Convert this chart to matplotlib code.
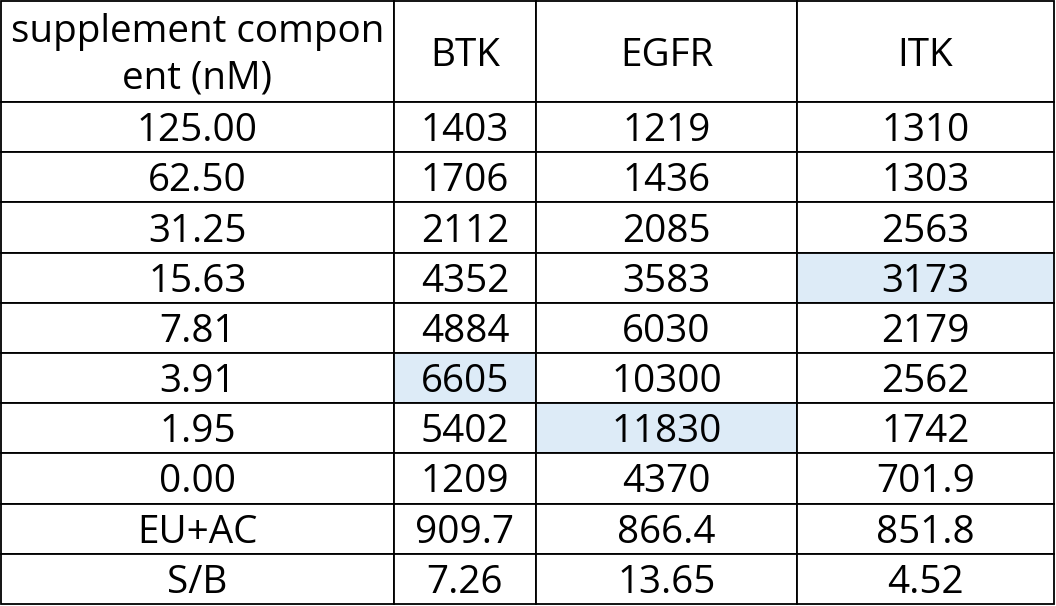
import matplotlib
matplotlib.use("Agg")
import matplotlib.pyplot as plt
from matplotlib.transforms import Affine2D

plt.rcParams['font.family'] = ['Open Sans', 'DejaVu Sans']

header = ["supplement compon\nent (nM)", "BTK", "EGFR", "ITK"]
conditions = ["125.00", "62.50", "31.25", "15.63", "7.81", "3.91", "1.95",
              "0.00", "EU+AC", "S/B"]
btk = ["1403", "1706", "2112", "4352", "4884", "6605", "5402", "1209", "909.7", "7.26"]
egfr = ["1219", "1436", "2085", "3583", "6030", "10300", "11830", "4370", "866.4", "13.65"]
itk = ["1310", "1303", "2563", "3173", "2179", "2562", "1742", "701.9", "851.8", "4.52"]

series = [btk, egfr, itk]
rows = [[conditions[i]] + [s[i] for s in series] for i in range(len(conditions))]

W, H = 1056, 606
fig = plt.figure(figsize=(W / 100, H / 100), dpi=100)
left, right, top, bottom = 1, 1054, 1, 604
ax = fig.add_axes([left / W, (H - bottom) / H, (right - left) / W, (bottom - top) / H])
ax.axis('off')

col_px = [393, 142, 261, 257]
tot = sum(col_px)
colw = [c / tot for c in col_px]

FS = 27.8
tbl = ax.table(cellText=rows, colLabels=header, colWidths=colw,
               cellLoc='center', bbox=[0, 0, 1, 1])
tbl.auto_set_font_size(False)
tbl.set_fontsize(FS)

head_h = 101
row_h = (bottom - top - head_h) / len(rows)
highlight = "#DDEBF7"

# highlight the max of each series
max_idx = [max(range(len(s)), key=lambda i: float(s[i])) for s in series]

for (r, c), cell in tbl.get_celld().items():
    cell.set_edgecolor('black')
    cell.set_linewidth(1.3)
    cell.PAD = 0.0
    cell.set_height(head_h if r == 0 else row_h)
    txt = cell.get_text()
    txt.set_fontsize(FS)
    txt.set_color('black')
    txt.set_transform(Affine2D().translate(0, -4))
    if r == 0 and c == 0:
        txt.set_linespacing(1.29)
    if r > 0 and c > 0 and max_idx[c - 1] == r - 1:
        cell.set_facecolor(highlight)
    else:
        cell.set_facecolor('white')

fig.savefig("out.png", dpi=100, facecolor='white')
